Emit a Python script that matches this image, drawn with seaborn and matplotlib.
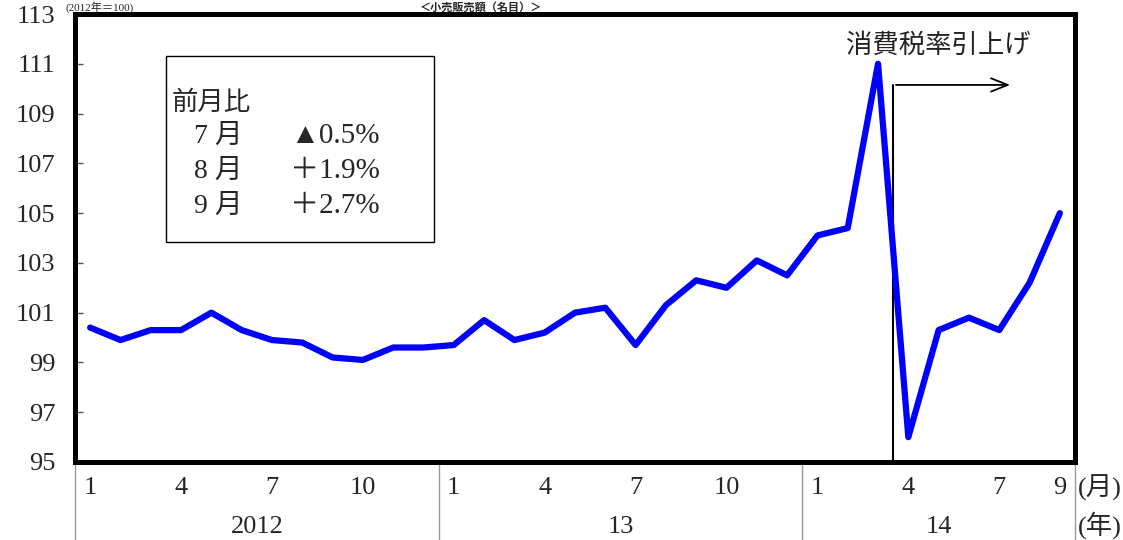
import matplotlib
matplotlib.use("Agg")
import matplotlib.pyplot as plt
import seaborn as sns
import pandas as pd
from matplotlib.patches import Rectangle

# ---- data ----
months = [1, 2, 3, 4, 5, 6, 7, 8, 9, 10, 11, 12,
          1, 2, 3, 4, 5, 6, 7, 8, 9, 10, 11, 12,
          1, 2, 3, 4, 5, 6, 7, 8, 9]
years = [2012] * 12 + [2013] * 12 + [2014] * 9
values = [100.4, 99.9, 100.3, 100.3, 101.0, 100.3, 99.9, 99.8, 99.2, 99.1, 99.6, 99.6,
          99.7, 100.7, 99.9, 100.2, 101.0, 101.2, 99.7, 101.3, 102.3, 102.0, 103.1, 102.5,
          104.1, 104.4, 111.0, 96.0, 100.3, 100.8, 100.3, 102.2, 105.0]
month_tick_labels = ["1", "4", "7", "10", "1", "4", "7", "10", "1", "4", "7", "9"]
month_tick_index = [0, 3, 6, 9, 12, 15, 18, 21, 24, 27, 30, 32]
year_labels = ["2012", "13", "14"]
year_label_pos = [5.5, 17.5, 28.0]
year_bounds = [-0.5, 11.5, 23.5, 32.5]
yticks = list(range(95, 114, 2))
box_rows = [("7 月", "▲0.5%"), ("8 月", "＋1.9%"), ("9 月", "＋2.7%")]

df = pd.DataFrame({"idx": range(len(values)), "value": values,
                   "month": months, "year": years})

sns.set_theme(style="white")
SERIF = ["Liberation Serif", "Noto Sans CJK JP", "DejaVu Sans"]
plt.rcParams["font.family"] = SERIF

W, H = 1123, 540
fig = plt.figure(figsize=(W / 100, H / 100), dpi=100)
fig.patch.set_facecolor("white")
ax = fig.add_axes([75 / W, 1 - 462 / H, 1000 / W, 448 / H])

sns.lineplot(data=df, x="idx", y="value", ax=ax, color=(0, 0, 1), linewidth=4.5,
             legend=False)

ax.set_xlim(-0.5, 32.5)
ax.set_ylim(95, 113)
ax.set_yticks(yticks)
ax.set_yticklabels([str(t) for t in yticks], fontsize=19, family=SERIF)
ax.tick_params(axis="y", direction="in", length=6, width=1, color="#555555",
               pad=14, left=True)
ax.set_xticks([])
ax.set_xlabel("")
ax.set_ylabel("")
for s in ax.spines.values():
    s.set_linewidth(3.6)
    s.set_color("black")

# month tick labels & year labels below the axes
for i, lab in zip(month_tick_index, month_tick_labels):
    ax.text(i, -0.058, lab, transform=ax.get_xaxis_transform(), ha="center",
            va="center", fontsize=19, family=SERIF)
for p, lab in zip(year_label_pos, year_labels):
    ax.text(p, -0.145, lab, transform=ax.get_xaxis_transform(), ha="center",
            va="center", fontsize=19, family=SERIF)
ax.text(32.6, -0.058, "(月)", transform=ax.get_xaxis_transform(), ha="left",
        va="center", fontsize=19, family=SERIF)
ax.text(32.6, -0.14, "(年)", transform=ax.get_xaxis_transform(), ha="left",
        va="center", fontsize=19, family=SERIF)
for b in year_bounds:
    ax.plot([b, b], [0, -0.2], transform=ax.get_xaxis_transform(), color="#999999",
            linewidth=1.0, clip_on=False)

# consumption tax annotation
ax.plot([26.5, 26.5], [95, 110.15], color="black", linewidth=1.5, zorder=1)
ax.annotate("", xy=(30.45, 110.15), xytext=(26.5, 110.15),
            arrowprops=dict(arrowstyle="->,head_length=1.0,head_width=0.4",
                            color="black", linewidth=1.3))
ax.text(28.0, 111.75, "消費税率引上げ", ha="center", va="center", fontsize=19,
        family=["Noto Sans CJK JP"], color="#222222")

# month-on-month box
fig.patches.append(Rectangle((166 / W, 1 - 242 / H), 268 / W, 186 / H,
                             transform=fig.transFigure, fill=False,
                             edgecolor="black", linewidth=1.0))
fig.text(172 / W, 1 - 102 / H, "前月比", ha="left", va="center", fontsize=19,
         family=["Noto Sans CJK JP"])
for k, (m, v) in enumerate(box_rows):
    yy = 1 - (136 + 35 * k) / H
    fig.text(194 / W, yy, m, ha="left", va="center", fontsize=20, family=SERIF)
    fig.text(290 / W, yy, v, ha="left", va="center", fontsize=21, family=SERIF)

# header texts (reduced to fit the narrow top margin)
fig.text(66 / W, 1 - 1 / H, "(2012年＝100)", ha="left", va="top", fontsize=8,
         family=SERIF)
fig.text(420 / W, 1 - 1 / H, "＜小売販売額（名目）＞", ha="left", va="top",
         fontsize=8, family=["Noto Sans CJK JP"], fontweight="bold")

fig.savefig("out.png", dpi=100)
